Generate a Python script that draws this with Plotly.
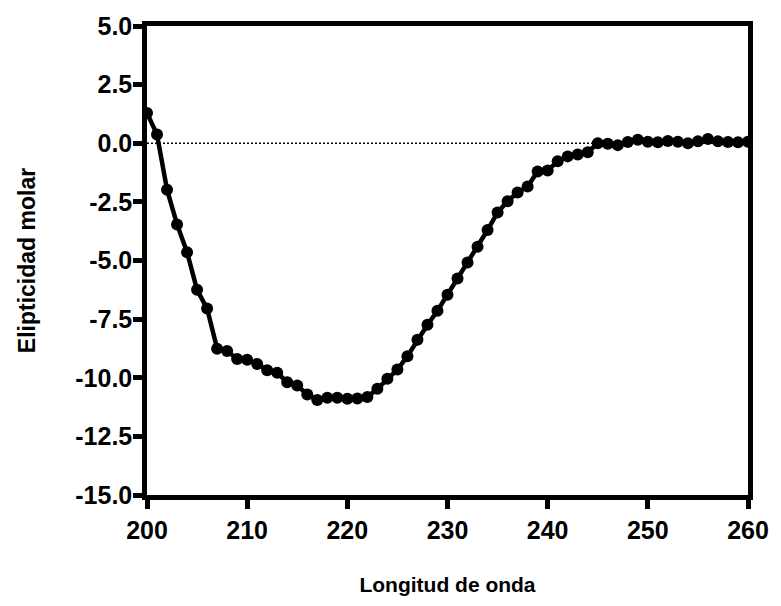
import plotly.graph_objects as go

# Wavelength (nm) and molar ellipticity
wavelength = list(range(200, 261))
ellipticity = [
    1.29, 0.37, -1.98, -3.46, -4.65, -6.25, -7.05, -8.76, -8.86, -9.20,
    -9.23, -9.41, -9.68, -9.79, -10.19, -10.33, -10.71, -10.95, -10.85, -10.85,
    -10.90, -10.88, -10.82, -10.47, -10.04, -9.65, -9.08, -8.38, -7.74, -7.14,
    -6.46, -5.77, -5.09, -4.41, -3.70, -2.95, -2.47, -2.10, -1.84, -1.20,
    -1.16, -0.77, -0.56, -0.48, -0.38, 0.00, -0.02, -0.08, 0.05, 0.15,
    0.06, 0.04, 0.10, 0.06, 0.00, 0.08, 0.18, 0.08, 0.05, 0.04,
    0.06,
]

x_ticks = [200, 210, 220, 230, 240, 250, 260]
x_ticklabels = ["200", "210", "220", "230", "240", "250", "260"]
y_ticks = [5.0, 2.5, 0.0, -2.5, -5.0, -7.5, -10.0, -12.5, -15.0]
y_ticklabels = ["5.0", "2.5", "0.0", "-2.5", "-5.0", "-7.5", "-10.0", "-12.5", "-15.0"]

x_title = "Longitud de onda"
y_title = "Elipticidad molar"

FONT = "Arial, 'Liberation Sans', sans-serif"

fig = go.Figure()

# zero reference line (dotted)
fig.add_trace(go.Scatter(
    x=[200, 260], y=[0, 0], mode="lines",
    line=dict(color="black", width=1.5, dash="2px,2px"),
    hoverinfo="skip", showlegend=False,
))

fig.add_trace(go.Scatter(
    x=wavelength, y=ellipticity, mode="lines+markers",
    line=dict(color="black", width=4.5),
    marker=dict(color="black", size=12, symbol="circle"),
    showlegend=False,
))

axis_common = dict(
    showline=True, linecolor="black", linewidth=4.5, mirror=True,
    ticks="outside", ticklen=9, tickwidth=4.5, tickcolor="black",
    showgrid=False, zeroline=False,
    tickfont=dict(family=FONT, size=25, color="black", weight="bold"),
)

fig.update_xaxes(
    range=[200, 260], tickvals=x_ticks, ticktext=x_ticklabels,
    title=dict(text=x_title, standoff=36,
               font=dict(family=FONT, size=21, color="black", weight="bold")),
    **axis_common,
)
fig.update_yaxes(
    range=[-15, 5], tickvals=y_ticks, ticktext=y_ticklabels,
    ticklabelstandoff=-4,
    title=dict(text=y_title, standoff=35,
               font=dict(family=FONT, size=23, color="black", weight="bold")),
    **axis_common,
)

fig.update_layout(
    width=781, height=606,
    margin=dict(l=147, r=24, t=25, b=110),
    paper_bgcolor="white", plot_bgcolor="white",
)

fig.write_html("out.html")
